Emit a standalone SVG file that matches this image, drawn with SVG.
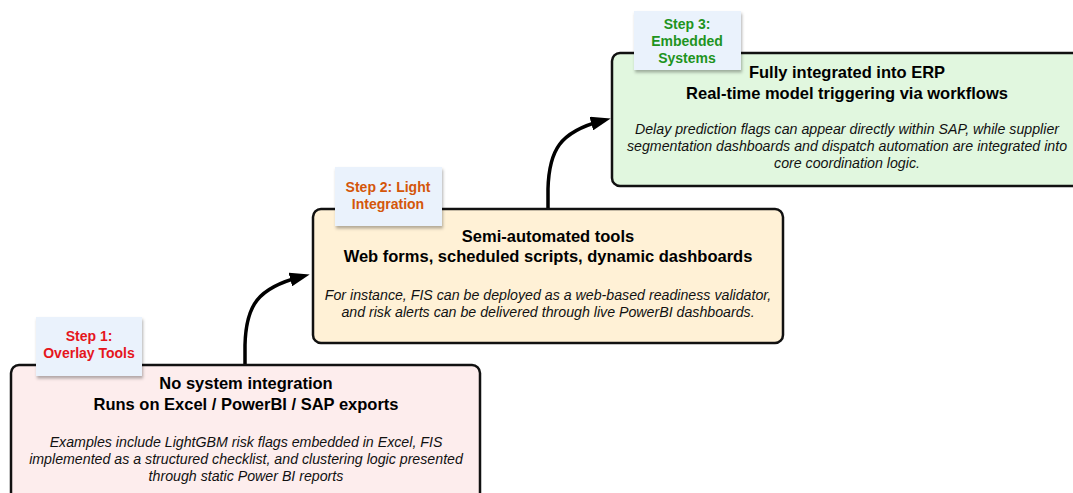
<svg xmlns="http://www.w3.org/2000/svg" width="1073" height="493" viewBox="0 0 1073 493">
  <defs>
    <filter id="noteShadow" x="-20%" y="-20%" width="150%" height="150%">
      <feDropShadow dx="1" dy="2.5" stdDeviation="1.5" flood-color="#000" flood-opacity="0.3"/>
    </filter>
    <marker id="arrowHead" viewBox="0 0 20 14" refX="10" refY="7" markerWidth="20" markerHeight="14" orient="auto" markerUnits="userSpaceOnUse">
      <path d="M0,0 L20,7 L0,14 Z" fill="#000"/>
    </marker>
    <style>
      .box { stroke: #111; stroke-width: 2.5; }
      .note { fill: #eaf2fc; filter: url(#noteShadow); }
      .title { font-family: "Liberation Sans", Arial, sans-serif; font-weight: bold; font-size: 16.5px; fill: #000; text-anchor: middle; }
      .desc { font-family: "Liberation Sans", Arial, sans-serif; font-style: italic; font-size: 14.2px; fill: #111; text-anchor: middle; }
      .step { font-family: "Liberation Sans", Arial, sans-serif; font-weight: bold; font-size: 14px; text-anchor: middle; }
      .conn { fill: none; stroke: #000; stroke-width: 3.5; marker-end: url(#arrowHead); }
    </style>
  </defs>

  <rect width="1073" height="493" fill="#fff"/>

  <!-- connectors between the stages -->
  <g id="connectors">
    <path class="conn" d="M245,365 L245,345 C246,305 258,288 300,277"/>
    <path class="conn" d="M548,208 L548,189 C549,150 560,132 601,121"/>
  </g>

  <!-- stage 1 -->
  <g id="stage1">
    <rect class="box" x="11" y="365" width="469" height="140" rx="8" fill="#fdeded"/>
    <text class="title" x="246" y="389">No system integration</text>
    <text class="title" x="246" y="410">Runs on Excel / PowerBI / SAP exports</text>
    <text class="desc" x="246" y="447">Examples include LightGBM risk flags embedded in Excel, FIS</text>
    <text class="desc" x="246" y="464">implemented as a structured checklist, and clustering logic presented</text>
    <text class="desc" x="246" y="481">through static Power BI reports</text>
  </g>
  <g id="note1">
    <rect class="note" x="36" y="317" width="106" height="59"/>
    <text class="step" x="89" y="341" fill="#e5161c">Step 1:</text>
    <text class="step" x="89" y="358" fill="#e5161c">Overlay Tools</text>
  </g>

  <!-- stage 2 -->
  <g id="stage2">
    <rect class="box" x="313" y="209" width="470" height="134" rx="8" fill="#fff1d6"/>
    <text class="title" x="548" y="242">Semi-automated tools</text>
    <text class="title" x="548" y="262">Web forms, scheduled scripts, dynamic dashboards</text>
    <text class="desc" x="548" y="300">For instance, FIS can be deployed as a web-based readiness validator,</text>
    <text class="desc" x="548" y="317">and risk alerts can be delivered through live PowerBI dashboards.</text>
  </g>
  <g id="note2">
    <rect class="note" x="335" y="167" width="107" height="59"/>
    <text class="step" x="388" y="192" fill="#d4560a">Step 2: Light</text>
    <text class="step" x="388" y="209" fill="#d4560a">Integration</text>
  </g>

  <!-- stage 3 -->
  <g id="stage3">
    <rect class="box" x="612" y="53" width="470" height="133" rx="8" fill="#e1f7df"/>
    <text class="title" x="847" y="78">Fully integrated into ERP</text>
    <text class="title" x="847" y="99">Real-time model triggering via workflows</text>
    <text class="desc" x="847" y="134">Delay prediction flags can appear directly within SAP, while supplier</text>
    <text class="desc" x="847" y="151">segmentation dashboards and dispatch automation are integrated into</text>
    <text class="desc" x="847" y="168">core coordination logic.</text>
  </g>
  <g id="note3">
    <rect class="note" x="634" y="11" width="107" height="59"/>
    <text class="step" x="687" y="29" fill="#1e941e">Step 3:</text>
    <text class="step" x="687" y="46" fill="#1e941e">Embedded</text>
    <text class="step" x="687" y="63" fill="#1e941e">Systems</text>
  </g>
</svg>
